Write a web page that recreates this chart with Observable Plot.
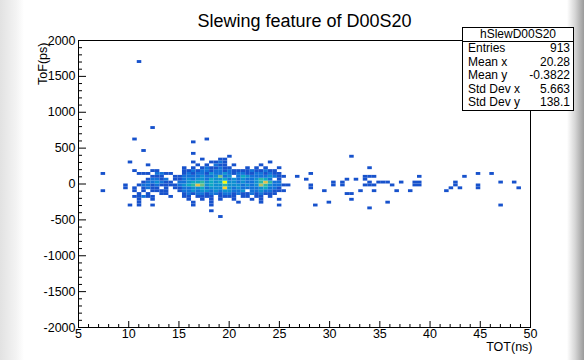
<!DOCTYPE html>
<html>
<head>
<meta charset="utf-8">
<script src="https://cdn.jsdelivr.net/npm/d3@7"></script>
<script src="https://cdn.jsdelivr.net/npm/@observablehq/plot@0.6"></script>
<style>
html, body { margin: 0; padding: 0; }
body {
  width: 584px; height: 360px; overflow: hidden; position: relative;
  font-family: "Liberation Sans", Arial, sans-serif;
  background: linear-gradient(to right, #e2e2e2 0px, #f3f3f3 16px, #ffffff 24px, #ffffff 567px, #d6d6d6 575px, #9a9a9a 584px);
}
#chart { position: absolute; left: 0; top: 0; }
#stats {
  position: absolute; left: 462px; top: 27px; width: 110px; height: 82px;
  border: 1px solid #000; background: #fff; font-size: 12px; color: #000;
}
#stats .ttl { height: 13px; line-height: 13px; text-align: center; border-bottom: 1px solid #000; }
#stats .row { position: relative; height: 13.6px; line-height: 13.6px; }
#stats .lab { position: absolute; left: 5px; }
#stats .val { position: absolute; right: 3px; }
</style>
</head>
<body>
<div id="chart"></div>
<div id="stats"></div>
<script>
// ---- text ----
const chartTitle = "Slewing feature of D00S20";
const xTitle = "TOT(ns)";
const yTitle = "ToF(ps)";
const statTitle = "hSlewD00S20";
const statLabels = ["Entries", "Mean x", "Mean y", "Std Dev x", "Std Dev y"];
const statValues = ["913", "20.28", "-0.3822", "5.663", "138.1"];

// ---- axes ----
const xMajor = [5, 10, 15, 20, 25, 30, 35, 40, 45, 50];
const yMajor = [-2000, -1500, -1000, -500, 0, 500, 1000, 1500, 2000];

// ---- histogram binning (100 x 100 bins) ----
const xEdges = d3.range(101).map(k => 5 + 0.45 * k);
const yEdges = d3.range(101).map(k => -2000 + 40 * k);

// ---- dense region: counts per 0.45 ns bin, first bin centre at 9.275 ns ----
const gridTot0 = 9.275;
const gridTof = [220, 180, 140, 100, 60, 20, -20, -60, -100, -140, -180, -220];
const gridCounts = [
  [0,0,0,0,0,0,0,0,0,0,0,0,0, 0,1,0,1,0,1,2,1,1,2,1,1,0,0,0,1,0,1,0,1,0,0,1],
  [0,0,0,1,0,0,0,1,1,0,0,0,0, 0,1,1,2,1,2,2,1,2,2,1,2,1,1,1,1,2,1,1,2,1,1,0],
  [0,0,0,0,1,1,1,0,2,2,1,1,0, 0,1,2,1,2,2,1,3,2,2,3,2,1,2,2,1,1,2,2,1,2,1,1],
  [0,0,0,0,0,0,0,1,1,1,0,0,1, 1,2,2,2,2,3,2,2,3,6,2,3,0,2,4,3,2,2,2,2,3,2,1],
  [0,0,0,0,0,0,1,2,2,1,2,0,1, 1,2,3,2,3,3,2,4,3,3,4,2,3,2,3,2,2,3,5,4,2,0,1],
  [0,0,0,0,0,1,2,2,3,2,1,1,0, 2,2,3,4,4,5,3,4,3,4,10,3,3,2,3,2,2,3,5,8,5,2,2],
  [0,1,0,0,1,2,2,1,2,1,1,1,1, 2,3,4,5,8,6,3,4,3,3,5,3,3,3,2,3,2,3,7,5,3,2,2],
  [0,1,0,1,0,1,2,1,1,0,1,0,1, 1,2,2,3,3,4,2,3,3,3,9,3,2,3,2,2,2,2,3,4,2,2,1],
  [0,0,0,1,0,1,0,1,1,1,1,0,0, 1,2,2,3,2,3,3,2,3,2,3,3,2,2,3,0,2,2,3,2,2,1,1],
  [0,0,0,0,1,0,1,0,0,1,1,0,0, 0,1,2,1,2,2,1,2,2,1,2,2,1,2,1,1,2,1,2,1,1,1,0],
  [0,0,0,1,1,2,1,1,0,0,0,1,0, 0,1,1,0,1,1,1,1,0,1,1,1,1,0,1,1,0,1,1,0,1,0,0],
  [0,0,0,0,1,0,0,1,0,0,0,0,0, 0,0,1,0,0,1,0,1,0,1,0,0,1,0,0,0,1,0,1,0,0,0,1]
];

// ---- isolated cells ----
const sparseTot = [
  11.2, 12.45, 10.7, 11.6, 10.25, 12.0, 16.5, 17.85, 16.5, 17.4, 20.0, 19.2, 19.6, 7.5, 7.5,
  16.5, 18.3, 18.7, 19.2, 19.6, 24.1,
  16.9, 17.8, 18.7, 19.2, 19.6, 20.5, 23.2,
  10.9, 16.5, 18.3, 21.0, 23.2,
  10.2, 11.1, 12.4, 16.5, 18.3, 25.0, 18.3, 19.2,
  25.475, 25.475, 25.475, 25.925, 26.825, 27.725, 28.175, 28.175, 28.175, 28.625,
  29.525, 29.975, 30.425, 30.425, 31.325, 31.325, 31.775, 31.775,
  32.225, 32.225, 32.225, 32.675, 33.125, 33.575, 33.575, 33.575,
  34.025, 34.025, 34.025, 34.025, 34.025, 34.475, 34.475, 34.475,
  34.925, 35.375, 35.825, 35.825, 36.275, 36.725, 37.175, 38.075,
  38.525, 38.525, 38.975, 38.975, 38.975,
  41.675, 42.125, 42.575, 42.575, 43.025, 43.475,
  44.825, 44.825, 44.825, 46.175, 47.075, 47.075, 48.425, 48.875
];
const sparseTof = [
  1700, 780, 620, 460, 300, 260, 580, 620, 420, 340, 380, 340, 340, 140, -100,
  300, 300, 300, 300, 300, 300,
  260, 260, 260, 260, 260, 260, 260,
  -260, -260, -260, -260, -260,
  -300, -300, -300, -300, -300, -300, -380, -460,
  100, -20, -100, -20, 100, 60, 140, -20, -60, -300,
  -100, -260, 20, -20, 20, -20, 60, -140,
  380, -140, -220, 60, -100, 100, 60, -20,
  220, 100, 20, -20, -340, 100, -20, -100,
  20, 20, 20, -260, -20, -100, 20, -100,
  20, -20, 100, 20, -20,
  -100, -60, 20, -20, -60, 100,
  140, -20, -60, 140, 20, -300, 20, -60
];
const sparseN = sparseTot.map((_, k) => (k === 18 || k === 23) ? 2 : 1);

// ---- ROOT kBird palette stops ----
const birdStops = ["#352a87", "#0f5cdd", "#1481d6", "#06a4ca", "#2eb7a4", "#87bf77", "#d1bb59", "#fec832", "#f9fb0e"];

// ---- build cell table ----
const cells = [];
gridCounts.forEach((row, r) => row.forEach((n, k) => {
  if (n > 0) cells.push({tot: gridTot0 + 0.45 * k, tof: gridTof[r], n});
}));
sparseTot.forEach((t, k) => cells.push({tot: t, tof: sparseTof[k], n: sparseN[k]}));

const W = 584, H = 360, mL = 78, mR = 54, mT = 40, mB = 33;
const frameW = W - mL - mR, frameH = H - mT - mB;
const xMinor = d3.range(5, 51, 1).filter(v => v % 5 !== 0);
const yMinor = d3.range(-2000, 2001, 100).filter(v => v % 500 !== 0);

const plot = Plot.plot({
  width: W, height: H,
  marginLeft: mL, marginRight: mR, marginTop: mT, marginBottom: mB,
  x: {domain: [5, 50]},
  y: {domain: [-2000, 2000]},
  color: {type: "linear", domain: [0, 10], interpolate: d3.piecewise(d3.interpolateRgb, birdStops), clamp: true},
  style: {fontFamily: "'Liberation Sans', Arial, sans-serif", fontSize: "12.5px", background: "transparent", color: "#000"},
  marks: [
    Plot.rect(cells, Plot.bin({fill: "sum"}, {
      x: {value: "tot", thresholds: xEdges},
      y: {value: "tof", thresholds: yEdges},
      fill: "n", inset: 0
    })),
    Plot.frame({stroke: "#000"}),
    Plot.tickX(xMinor, {x: d => d, insetTop: frameH - 3, stroke: "#000"}),
    Plot.tickX(xMajor, {x: d => d, insetTop: frameH - 6, stroke: "#000"}),
    Plot.tickY(yMinor, {y: d => d, insetRight: frameW - 4, stroke: "#000"}),
    Plot.tickY(yMajor, {y: d => d, insetRight: frameW - 8, stroke: "#000"}),
    Plot.axisX(xMajor, {tickSize: 0, tickPadding: 2, tickFormat: d => String(d), label: null, fontSize: 12.5}),
    Plot.axisY(yMajor, {tickSize: 0, tickPadding: 3, tickFormat: d => String(d), label: null, fontSize: 12.5}),
    Plot.text([chartTitle], {frameAnchor: "top", dy: -26, fontSize: 18, fill: "#000"}),
    Plot.text([yTitle], {frameAnchor: "top-left", rotate: -90, textAnchor: "end", dx: -40, dy: 2, fontSize: 12.5, fill: "#000"}),
    Plot.text([xTitle], {frameAnchor: "bottom-right", textAnchor: "end", dx: 2, dy: 23, fontSize: 12.5, fill: "#000"})
  ]
});
document.getElementById("chart").appendChild(plot);

// ---- stats box ----
const stats = document.getElementById("stats");
const t = document.createElement("div");
t.className = "ttl"; t.textContent = statTitle; stats.appendChild(t);
statLabels.forEach((lab, k) => {
  const r = document.createElement("div"); r.className = "row";
  const a = document.createElement("span"); a.className = "lab"; a.textContent = lab;
  const b = document.createElement("span"); b.className = "val"; b.textContent = statValues[k];
  r.appendChild(a); r.appendChild(b); stats.appendChild(r);
});
</script>
</body>
</html>
